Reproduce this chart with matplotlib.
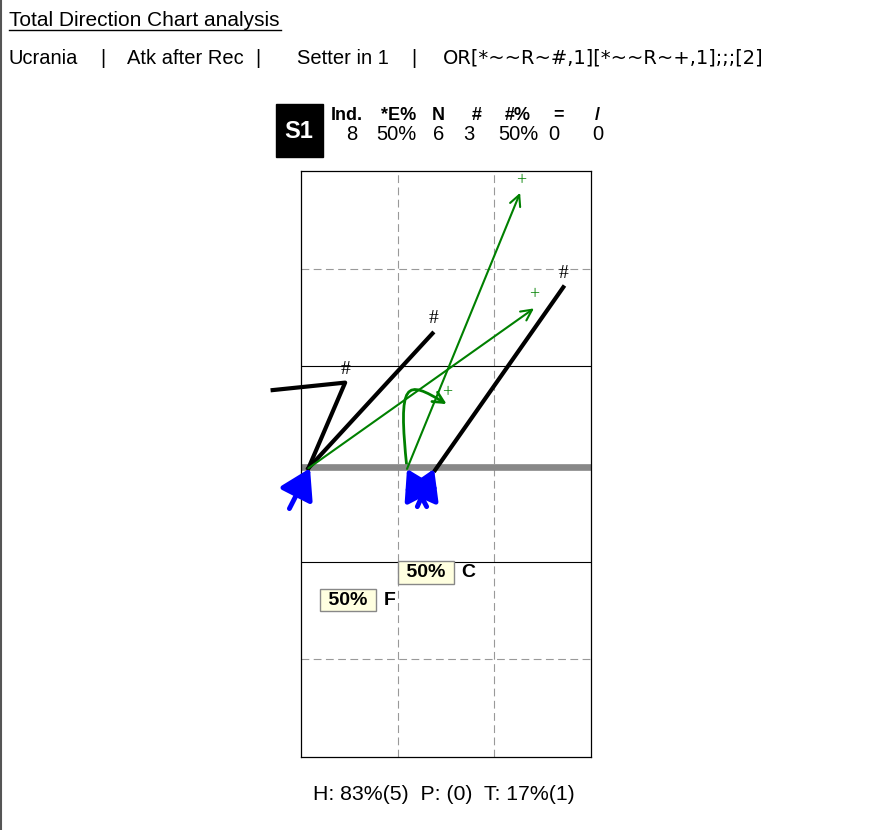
import matplotlib
matplotlib.use('Agg')
import matplotlib.pyplot as plt
from matplotlib.patches import Rectangle, FancyArrowPatch
from matplotlib.path import Path

plt.rcParams['font.family'] = ['Liberation Sans', 'DejaVu Sans']

# court is 9 x 18 m, y measured from the bottom end line
# attacks that ended with '#' (black lines)
hash_paths = [
  [(0.23, 8.87), (1.37, 11.50), (-0.88, 11.27)],
  [(0.23, 8.87), (4.08, 13.01)],
  [(4.16, 8.81), (8.14, 14.43)],
]
hash_x = [1.37, 4.11, 8.16]
hash_y = [11.89, 13.47, 14.86]

# attacks that ended with '+' (green arrows)
plus_start = [(3.29, 8.85), (0.23, 8.87)]
plus_end = [(6.80, 17.33), (7.23, 13.78)]
plus_curve = [(3.29, 8.85), (3.00, 11.60), (3.25, 11.60), (4.52, 10.84)]
plus_x = [6.83, 7.23, 4.54]
plus_y = [17.70, 14.19, 11.19]

# reception origins (blue arrows)
rec_tail = [(-0.36, 7.63), (3.90, 7.69), (3.61, 7.69)]
rec_tip = [(0.28, 8.87), (3.29, 8.85), (4.13, 8.85)]

zone_names = ['C', 'F']
zone_pcts = [50, 50]

stat_cols = ['Ind.', '*E%', 'N', '#', '#%', '=', '/']
stat_vals = ['8', '50%', '6', '3', '50%', '0', '0']

title = 'Total Direction Chart analysis'
filters = ['Ucrania', 'Atk after Rec', 'Setter in 1', 'OR[*~~R~#,1][*~~R~+,1];;;[2]']
footer = 'H: 83%(5)  P: (0)  T: 17%(1)'

W, H = 890, 830
fig = plt.figure(figsize=(W / 100, H / 100), dpi=100)

# page layer in pixel coordinates
bg = fig.add_axes([0, 0, 1, 1])
bg.set_xlim(0, W)
bg.set_ylim(H, 0)
bg.axis('off')

bg.plot([1, 1], [0, H], color='#555555', lw=1.5)
bg.text(9, 20, title, fontsize=15, ha='left', va='center')
bg.plot([9, 281], [30.5, 30.5], color='black', lw=1)

filter_x = [9, 127, 297, 443]
sep_x = [103, 258, 414]
for x, s in zip(filter_x[:3], filters[:3]):
  bg.text(x, 58, s, fontsize=14.5, ha='left', va='center')
bg.text(filter_x[3], 58, filters[3], fontsize=14, family='DejaVu Sans', ha='left', va='center')
for x in sep_x:
  bg.text(x, 58, '|', fontsize=14.5, ha='center', va='center')

# S1 block with stats
bg.add_patch(Rectangle((276, 104), 46.5, 53, color='black'))
bg.text(299, 131, 'S1', color='white', fontsize=17, fontweight='bold', ha='center', va='center')
col_x = [347, 399, 438, 477, 518, 559, 597]
val_x = [352, 396.5, 439, 469, 518, 553.5, 597.5]
for x, c in zip(col_x, stat_cols):
  bg.text(x, 115, c, fontsize=13, fontweight='bold', ha='center', va='center')
for x, v in zip(val_x, stat_vals):
  bg.text(x, 134, v, fontsize=14.5, ha='center', va='center')

bg.text(444, 794, footer, fontsize=15.3, ha='center', va='center')

# court
ax = fig.add_axes([301 / W, (H - 757) / H, 290 / W, 586 / H])
ax.set_xlim(0, 9)
ax.set_ylim(0, 18)
ax.set_xticks([])
ax.set_yticks([])
for sp in ax.spines.values():
  sp.set_linewidth(0.9)
ax.patch.set_alpha(0)

for x in [3, 6]:
  ax.plot([x, x], [0, 18], color='#999999', lw=0.8, dashes=(7, 4))
for y in [3, 15]:
  ax.plot([0, 9], [y, y], color='#999999', lw=0.8, dashes=(7, 4))
for y in [6, 12]:
  ax.plot([0, 9], [y, y], color='black', lw=0.8)
ax.plot([0, 9], [8.9, 8.9], color='#888888', lw=4.8, solid_capstyle='butt')

for p in hash_paths:
  ax.plot([q[0] for q in p], [q[1] for q in p], color='black', lw=3, clip_on=False)
for x, y in zip(hash_x, hash_y):
  ax.text(x, y, '#', fontsize=14, family='Liberation Serif', ha='center', va='center')

for a, b in zip(plus_start, plus_end):
  ax.annotate('', xy=b, xytext=a,
              arrowprops=dict(arrowstyle='->,head_length=0.6,head_width=0.3', color='green',
                              lw=1.5, mutation_scale=13, shrinkA=0, shrinkB=0))
curve = Path(plus_curve, [Path.MOVETO, Path.CURVE4, Path.CURVE4, Path.CURVE4])
ax.add_patch(FancyArrowPatch(path=curve, arrowstyle='->,head_length=0.6,head_width=0.3',
                             color='green', lw=2, mutation_scale=13))
for x, y in zip(plus_x, plus_y):
  ax.text(x, y, '+', fontsize=13, family='Liberation Serif', color='green', ha='center', va='center')

for a, b in zip(rec_tail, rec_tip):
  ax.annotate('', xy=b, xytext=a, annotation_clip=False,
              arrowprops=dict(arrowstyle='-|>,head_length=0.9,head_width=0.55', color='blue',
                              lw=3.5, mutation_scale=20, shrinkA=0, shrinkB=0, clip_on=False))

# zone percentages
box_pos = [(3.88, 5.68), (1.46, 4.82)]
name_pos = [(5.18, 5.68), (2.76, 4.82)]
for (bx, by), (nx, ny), n, pct in zip(box_pos, name_pos, zone_names, zone_pcts):
  ax.text(bx, by, ' %d%% ' % pct, fontsize=14, fontweight='bold', ha='center', va='center',
          bbox=dict(boxstyle='square,pad=0.15', fc='#ffffe0', ec='#888888', lw=1))
  ax.text(nx, ny, n, fontsize=14, fontweight='bold', ha='center', va='center')

fig.savefig('out.png', dpi=100)
